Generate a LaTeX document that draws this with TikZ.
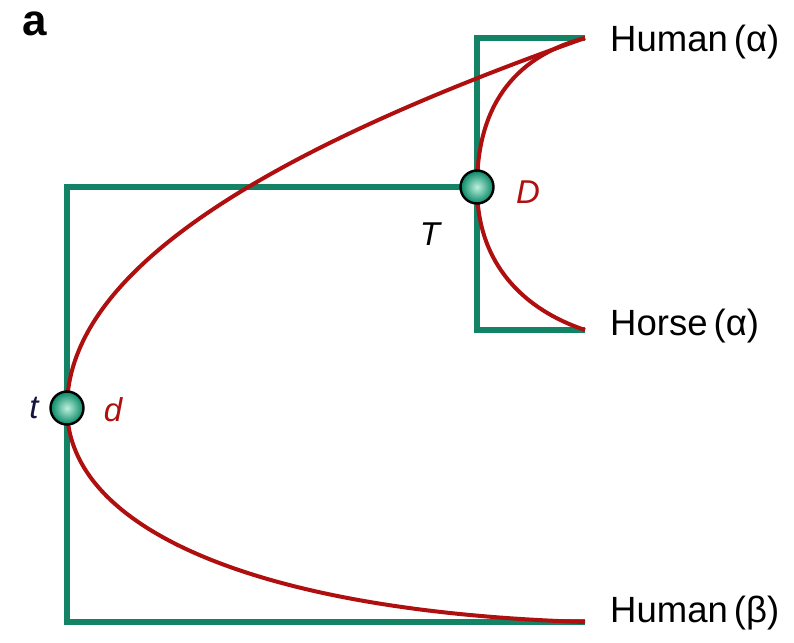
\documentclass[tikz,border=0pt]{standalone}
\usepackage{fontspec}
\setmainfont{Liberation Sans}
\begin{document}
\begin{tikzpicture}[x=1pt,y=-1pt,
  treeline/.style={draw=treegreen,line width=5.5pt},
  recline/.style={draw=recred,line width=4pt},
  ballnode/.style={circle,draw=black,line width=2.4pt,minimum size=33pt,inner sep=0pt,inner color=ballhi,outer color=ballgreen},
  leaf/.style={anchor=west,font=\fontsize{36.5}{36.5}\selectfont,inner sep=0pt},
  lab/.style={font=\fontsize{33}{33}\selectfont\itshape,inner sep=0pt}]
\definecolor{treegreen}{RGB}{20,130,100}
\definecolor{recred}{RGB}{175,15,15}
\definecolor{ballgreen}{RGB}{5,135,100}
\definecolor{ballhi}{RGB}{190,240,222}
\definecolor{tblue}{RGB}{20,20,60}
\useasboundingbox (0,0) rectangle (794,642);
% named points
\coordinate (hA) at (585,38);
\coordinate (hoA) at (585,330);
\coordinate (hB) at (585,622);
\coordinate (Dc) at (477,187);
\coordinate (dc) at (67,408);
% green species tree
\draw[treeline] (hA) -- (477,38) -- (477,330) -- (hoA);
\draw[treeline] (Dc) -- (67,187) -- (67,622) -- (hB);
% red gene tree
\draw[recline] (dc) .. controls (67,272) and (262,152) .. (hA);
\draw[recline] (dc) .. controls (67,530) and (260,612) .. (hB);
\draw[recline] (Dc) .. controls (477,100) and (520,55) .. (hA);
\draw[recline] (Dc) .. controls (477,265) and (525,310) .. (hoA);
% balls
\node[ballnode] (D) at (Dc) {};
\node[ballnode] (d) at (dc) {};
% labels
\node[leaf] (l1) at (610,42) {Human\,(α)};
\node[leaf] (l2) at (610,326) {Horse\,(α)};
\node[leaf] (l3) at (610,613) {Human\,(β)};
\node[lab,text=tblue] (lt) at (34,408) {t};
\node[lab,text=recred] (ld) at (113,410) {d};
\node[lab] (lT) at (430,234) {T};
\node[lab,text=recred] (lD) at (528,192) {D};
\node[font=\fontsize{44}{44}\selectfont\bfseries,inner sep=0pt] (pa) at (35,24) {a};
\end{tikzpicture}
\end{document}
